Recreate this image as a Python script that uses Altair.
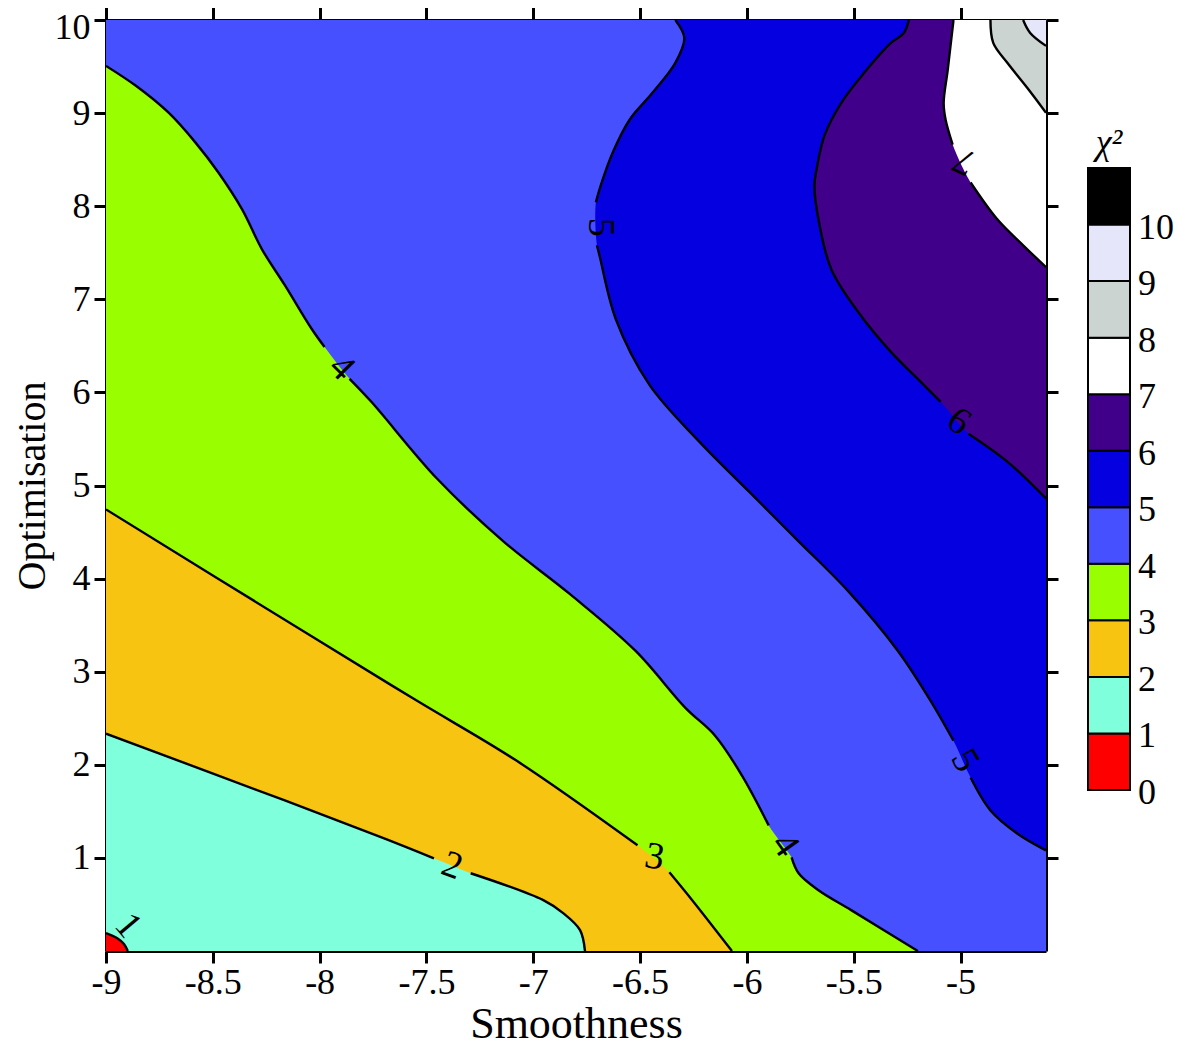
import altair as alt
import pandas as pd

# ---------------- data ----------------
X_MIN, X_MAX = -9.0, -4.6
Y_MIN, Y_MAX = 0.0, 10.0
x_ticks = [-9, -8.5, -8, -7.5, -7, -6.5, -6, -5.5, -5]
y_ticks = [1, 2, 3, 4, 5, 6, 7, 8, 9, 10]

band_levels = [0, 1, 2, 3, 4, 5, 6, 7, 8, 9, 10]
band_labels = ["0", "1", "2", "3", "4", "5", "6", "7", "8", "9", "10"]
band_colors = ["#FF0000", "#7FFFDB", "#F7C412", "#99FF00", "#4650FF", "#0400E0",
               "#41008A", "#FFFFFF", "#CCD4D2", "#E6E6FA", "#000000"]

# contour lines (Smoothness, Optimisation); gaps = index after which the drawn line is broken for a label
c1_x = [-9.000, -8.949, -8.916, -8.898]
c1_y = [0.193, 0.139, 0.075, 0.000]
c1_gaps = []

c2_x = [-9.000, -8.163, -7.698, -7.465, -7.293, -6.953, -6.860, -6.781, -6.758]
c2_y = [2.334, 1.617, 1.210, 0.996, 0.835, 0.546, 0.407, 0.225, 0.000]
c2_gaps = [3]

c3_x = [-9.000, -8.070, -7.544, -7.079, -6.512, -6.363, -6.256, -6.070]
c3_y = [4.743, 3.426, 2.687, 2.045, 1.135, 0.846, 0.546, 0.000]
c3_gaps = [4]

c4_x = [-9.000, -8.860, -8.707, -8.581, -8.474, -8.363, -8.270, -8.163, -8.037, -7.977,
        -7.860, -7.758, -7.451, -7.140, -6.828, -6.521, -6.288, -6.149, -6.023, -5.898,
        -5.791, -5.758, -5.665, -5.512, -5.200]
c4_y = [9.507, 9.293, 9.004, 8.683, 8.362, 7.966, 7.537, 7.152, 6.681, 6.488,
        6.146, 5.899, 5.075, 4.400, 3.833, 3.223, 2.612, 2.313, 1.884, 1.349,
        1.006, 0.835, 0.653, 0.439, 0.000]
c4_gaps = [9, 19]

c5_x = [-6.335, -6.293, -6.335, -6.442, -6.549, -6.628, -6.684, -6.707, -6.702, -6.688,
        -6.614, -6.456, -6.223, -5.991, -5.758, -5.526, -5.293, -5.140, -5.033, -4.953,
        -4.860, -4.735, -4.600]
c5_y = [10.000, 9.807, 9.540, 9.218, 8.929, 8.576, 8.223, 8.041, 7.580, 7.452,
        6.788, 6.081, 5.471, 4.936, 4.400, 3.865, 3.223, 2.687, 2.259, 1.863,
        1.510, 1.263, 1.081]
c5_gaps = [7, 18]

c6_x = [-5.242, -5.265, -5.326, -5.451, -5.558, -5.637, -5.674, -5.684, -5.665, -5.605,
        -5.479, -5.326, -5.186, -5.093, -4.963, -4.781, -4.600]
c6_y = [10.000, 9.861, 9.754, 9.433, 9.111, 8.758, 8.394, 8.223, 7.859, 7.323,
        6.863, 6.435, 6.113, 5.899, 5.557, 5.257, 4.861]
c6_gaps = [13]

c7_x = [-5.033, -5.060, -5.079, -5.070, -5.037, -4.953, -4.828, -4.707, -4.600]
c7_y = [10.000, 9.465, 9.111, 8.929, 8.662, 8.255, 7.859, 7.580, 7.345]
c7_gaps = [4]

c8_x = [-4.860, -4.847, -4.781, -4.688, -4.600]
c8_y = [10.000, 9.754, 9.540, 9.272, 9.004]
c8_gaps = []

c9_x = [-4.707, -4.674, -4.600]
c9_y = [10.000, 9.861, 9.722]
c9_gaps = []

# contour labels
lab_text = ["1", "2", "3", "4", "4", "5", "5", "6", "7"]
lab_x = [-8.898, -7.381, -6.433, -7.898, -5.823, -6.688, -4.981, -5.009, -4.981]
lab_y = [0.268, 0.910, 1.006, 6.263, 1.135, 7.773, 2.045, 5.685, 8.490]
lab_angle = [50, 20, 10, 45, 55, 90, 60, 35, 205]

# ---------------- build ----------------
SERIF = "Liberation Serif"
W, H = 940, 931

contours = {
    1: (c1_x, c1_y, c1_gaps), 2: (c2_x, c2_y, c2_gaps), 3: (c3_x, c3_y, c3_gaps),
    4: (c4_x, c4_y, c4_gaps), 5: (c5_x, c5_y, c5_gaps), 6: (c6_x, c6_y, c6_gaps),
    7: (c7_x, c7_y, c7_gaps), 8: (c8_x, c8_y, c8_gaps), 9: (c9_x, c9_y, c9_gaps),
}

xscale = alt.Scale(domain=[X_MIN, X_MAX], nice=False, zero=False)
yscale = alt.Scale(domain=[Y_MIN, Y_MAX], nice=False, zero=False)

x_axis = alt.Axis(values=x_ticks, title="Smoothness", grid=False, tickSize=12, tickWidth=3,
                  tickColor="black", domainColor="black", domainWidth=3,
                  labelFont=SERIF, labelFontSize=36, labelColor="black", labelPadding=2,
                  labelExpr="'' + datum.value", labelFlush=False,
                  titleFont=SERIF, titleFontSize=44, titleFontWeight="normal",
                  titleColor="black", titlePadding=2)
y_axis = alt.Axis(values=y_ticks, title="Optimisation", grid=False, tickSize=12, tickWidth=3,
                  tickColor="black", domainColor="black", domainWidth=3,
                  labelFont=SERIF, labelFontSize=36, labelColor="black", labelPadding=4,
                  labelFlush=True, labelFlushOffset=10,
                  titleFont=SERIF, titleFontSize=40, titleFontWeight="normal",
                  titleColor="black", titlePadding=2)

# background band (0-1)
bg_df = pd.DataFrame({"x": [X_MIN], "x2": [X_MAX], "y": [Y_MIN], "y2": [Y_MAX]})
bg = alt.Chart(bg_df).mark_rect(color=band_colors[0]).encode(
    x=alt.X("x:Q", scale=xscale, axis=x_axis), x2="x2:Q",
    y=alt.Y("y:Q", scale=yscale, axis=y_axis), y2="y2:Q")

layers = [bg]
for k in range(1, 10):
    xs, ys, _ = contours[k]
    if k <= 4:
        # the band above the point where the contour leaves the left edge spans the full width
        top_df = pd.DataFrame({"x": [X_MIN], "x2": [X_MAX], "y": [ys[0]], "y2": [Y_MAX]})
        layers.append(alt.Chart(top_df).mark_rect(color=band_colors[k], stroke=band_colors[k],
                                                  strokeWidth=1.5, clip=True).encode(
            x=alt.X("x:Q", scale=xscale, axis=x_axis), x2="x2:Q",
            y=alt.Y("y:Q", scale=yscale, axis=y_axis), y2="y2:Q"))
    df = pd.DataFrame({"x": list(xs), "y": list(ys), "xr": [X_MAX] * len(xs)})
    layers.append(
        alt.Chart(df).mark_area(orient="horizontal", interpolate="catmull-rom",
                                color=band_colors[k], clip=True).encode(
            x=alt.X("x:Q", scale=xscale, axis=x_axis, stack=False), x2="xr:Q",
            y=alt.Y("y:Q", scale=yscale, axis=y_axis))
    )

rows = []
for k, (xs, ys, gaps) in contours.items():
    seg = 0
    for i, (xv, yv) in enumerate(zip(xs, ys)):
        rows.append({"seg": f"{k}-{seg}", "i": i, "x": xv, "y": yv})
        if i in gaps:
            seg += 1
            rows.append({"seg": f"{k}-{seg}", "i": i + 0.5, "x": xs[i + 1], "y": ys[i + 1]})
line_df = pd.DataFrame(rows)
lines = alt.Chart(line_df).mark_line(color="black", strokeWidth=2.4,
                                     interpolate="catmull-rom", clip=True).encode(
    x=alt.X("x:Q", scale=xscale, axis=x_axis), y=alt.Y("y:Q", scale=yscale, axis=y_axis),
    detail="seg:N", order="i:Q")
layers.append(lines)

lab_df = pd.DataFrame({"t": lab_text, "x": lab_x, "y": lab_y, "a": lab_angle})
labels = alt.Chart(lab_df).mark_text(font=SERIF, fontSize=38, color="black",
                                     align="center", baseline="middle").encode(
    x=alt.X("x:Q", scale=xscale, axis=x_axis), y=alt.Y("y:Q", scale=yscale, axis=y_axis),
    text="t:N", angle=alt.Angle("a:Q", scale=None))
layers.append(labels)

main = alt.layer(*layers)

# mirrored ticks on top and right
corner_df = pd.DataFrame({"x": [X_MIN, X_MAX], "y": [Y_MIN, Y_MAX]})
mirror = alt.Chart(corner_df).mark_point(opacity=0).encode(
    x=alt.X("x:Q", scale=xscale,
            axis=alt.Axis(orient="top", values=x_ticks, labels=False, title=None, grid=False,
                          tickSize=14, tickWidth=3, tickColor="black",
                          domainColor="black", domainWidth=3)),
    y=alt.Y("y:Q", scale=yscale,
            axis=alt.Axis(orient="right", values=y_ticks, labels=False, title=None, grid=False,
                          tickSize=12, tickWidth=3, tickColor="black",
                          domainColor="black", domainWidth=3)))

# colour bar
cb_df = pd.DataFrame({"lo": band_levels, "hi": [v + 1 for v in band_levels],
                      "lab": band_labels, "x0": [0] * 11, "x1": [1] * 11})
cbx = alt.Scale(domain=[0, 1], range=[982, 1024])
cby = alt.Scale(domain=[0, 11], range=[770, 148])
cb_rect = alt.Chart(cb_df).mark_rect(stroke="black", strokeWidth=2).encode(
    x=alt.X("x0:Q", scale=cbx, axis=None), x2="x1:Q",
    y=alt.Y("lo:Q", scale=cby, axis=None), y2="hi:Q",
    fill=alt.Fill("lab:N", scale=alt.Scale(domain=band_labels, range=band_colors), legend=None))
cb_text = alt.Chart(cb_df).mark_text(font=SERIF, fontSize=36, color="black",
                                     align="left", baseline="middle", dx=8, dy=3).encode(
    x=alt.X("x1:Q", scale=cbx, axis=None),
    y=alt.Y("lo:Q", scale=cby, axis=None), text="lab:N")
cb_title_df = pd.DataFrame({"x": [0.5], "y": [11], "t": ["χ²"]})
cb_title = alt.Chart(cb_title_df).mark_text(font=SERIF, fontSize=36, fontStyle="italic",
                                            color="black", align="center",
                                            baseline="bottom", dy=-6).encode(
    x=alt.X("x:Q", scale=cbx, axis=None), y=alt.Y("y:Q", scale=cby, axis=None), text="t:N")
cbar = alt.layer(cb_rect, cb_text, cb_title)

chart = alt.layer(main, mirror, cbar).resolve_scale(
    x="independent", y="independent"
).properties(
    width=W, height=H,
    autosize=alt.AutoSizeParams(type="none"),
    padding={"left": 98, "top": 12, "right": 128, "bottom": 97},
    background="white",
).configure_view(strokeWidth=0)

chart.save("out.html", embed_options={"renderer": "svg", "actions": False})
